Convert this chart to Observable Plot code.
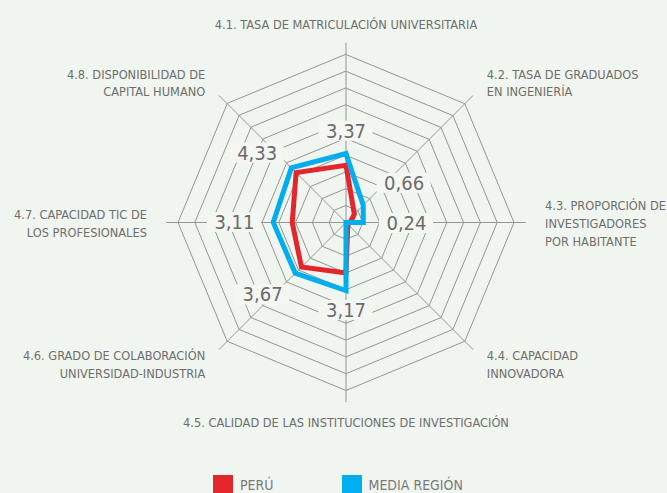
<!DOCTYPE html>
<html>
<head>
<meta charset="utf-8">
<script src="https://cdn.jsdelivr.net/npm/d3@7"></script>
<script src="https://cdn.jsdelivr.net/npm/@observablehq/plot@0.6"></script>
<style>
  html, body { margin: 0; padding: 0; background: #f0f5ef; overflow: hidden; }
  body { width: 667px; height: 493px; position: relative; font-family: "DejaVu Sans Condensed", "DejaVu Sans", sans-serif; font-stretch: condensed; }
  #legend { display: flex; align-items: flex-start; padding-left: 213px; margin-top: 5px; gap: 68px; }
  .item { display: flex; align-items: flex-start; gap: 7px; }
  .sw { width: 20px; height: 20px; }
  .lab { font-size: 14px; color: #7a7a7a; line-height: 1; padding-top: 3px; }
</style>
</head>
<body>
<div id="chart"></div>
<div id="legend"></div>
<script>
// ---- data ----
const axes = [
  "4.1. TASA DE MATRICULACIÓN UNIVERSITARIA",
  "4.2. TASA DE GRADUADOS\nEN INGENIERÍA",
  "4.3. PROPORCIÓN DE\nINVESTIGADORES\nPOR HABITANTE",
  "4.4. CAPACIDAD\nINNOVADORA",
  "4.5. CALIDAD DE LAS INSTITUCIONES DE INVESTIGACIÓN",
  "4.6. GRADO DE COLABORACIÓN\nUNIVERSIDAD-INDUSTRIA",
  "4.7. CAPACIDAD TIC DE\nLOS PROFESIONALES",
  "4.8. DISPONIBILIDAD DE\nCAPITAL HUMANO"
];
const peru = [3.4, 0.7, 0.25, 0.15, 3.0, 3.75, 3.2, 4.2];
const mediaRegion = [4.1, 1.45, 1.03, 0, 4.05, 4.27, 4.33, 4.6];
const valueLabels = ["3,37", "0,66", "0,24", "", "3,17", "3,67", "3,11", "4,33"];
const seriesNames = ["PERÚ", "MEDIA REGIÓN"];
const seriesColors = ["#e3262b", "#00aeef"];
const ringLevels = [1, 2, 3, 4, 5, 6, 7, 8, 9, 10];

// ---- layout ----
const W = 667, H = 470;
const cx = 345.5, cy = 222, unit = 16.8;
const axisEnd = 10.7, axisLabelR = 11.85;
const valueLabelLayout = [[0, 5.43], [56, 4.17], [91, 3.6], [135, 0], [180, 5.24], [229, 6.58], [270, 6.64], [308, 6.71]];

const n = axes.length;
const ang = i => (i * 2 * Math.PI) / n;
const px = (r, a) => r * Math.sin(a);
const py = (r, a) => r * Math.cos(a);

const ringPts = [];
ringLevels.forEach(l => {
  for (let i = 0; i < n; i++) ringPts.push({ring: l, x: px(l, ang(i)), y: py(l, ang(i))});
});
const spokes = axes.map((a, i) => ({x1: 0, y1: 0, x2: px(axisEnd, ang(i)), y2: py(axisEnd, ang(i))}));
const seriesPts = [];
[peru, mediaRegion].forEach((vals, s) => {
  vals.forEach((v, i) => seriesPts.push({serie: seriesNames[s], x: px(v, ang(i)), y: py(v, ang(i))}));
});
const axisLab = axes.map((t, i) => {
  const a = ang(i), sx = Math.sin(a);
  return {t, x: px(axisLabelR, a), y: py(axisLabelR, a),
    anchor: sx > 0.1 ? "start" : sx < -0.1 ? "end" : "middle"};
});
const valLab = valueLabels.map((t, i) => {
  const [deg, r] = valueLabelLayout[i];
  const a = deg * Math.PI / 180;
  return {t, x: px(r, a), y: py(r, a)};
}).filter(d => d.t !== "");
const bw = 27 / unit, bh = 10 / unit;

const plot = Plot.plot({
  width: W, height: H, margin: 0,
  x: {domain: [-cx / unit, (W - cx) / unit], axis: null},
  y: {domain: [-(H - cy) / unit, cy / unit], axis: null},
  style: {background: "transparent", fontFamily: '"DejaVu Sans Condensed", "DejaVu Sans", sans-serif'},
  marks: [
    Plot.link(spokes, {x1: "x1", y1: "y1", x2: "x2", y2: "y2", stroke: "#959595", strokeWidth: 1}),
    Plot.line(ringPts, {x: "x", y: "y", z: "ring", curve: "linear-closed", stroke: "#959595", strokeWidth: 1}),
    Plot.rect(valLab, {x1: d => d.x - bw, x2: d => d.x + bw, y1: d => d.y - bh, y2: d => d.y + bh, fill: "#f4f6f2"}),
    Plot.text(valLab, {x: "x", y: "y", text: "t", fontSize: 20, fill: "#6b6b6b"}),
    Plot.line(seriesPts, {x: "x", y: "y", z: "serie", curve: "linear-closed",
      stroke: d => d.serie, strokeWidth: 5, strokeLinejoin: "miter", strokeMiterlimit: 10}),
    Plot.text(axisLab, {x: "x", y: "y", text: "t", lineAnchor: "middle",
      lineHeight: 1.4, fontSize: 12.7, fill: "#6e6e6e"})
  ],
  color: {domain: seriesNames, range: seriesColors}
});
document.getElementById("chart").appendChild(plot);
// per-label text anchor for the axis labels (last text mark)
const textGroups = d3.select(plot).selectAll("g[aria-label='text']").nodes();
d3.select(textGroups[textGroups.length - 1]).selectAll("text")
  .each(function (d, i) { d3.select(this).attr("text-anchor", axisLab[i].anchor); });

// legend
const lg = d3.select("#legend");
seriesNames.forEach((s, i) => {
  const it = lg.append("div").attr("class", "item");
  it.append("div").attr("class", "sw").style("background", seriesColors[i]);
  it.append("div").attr("class", "lab").text(s);
});
</script>
</body>
</html>
